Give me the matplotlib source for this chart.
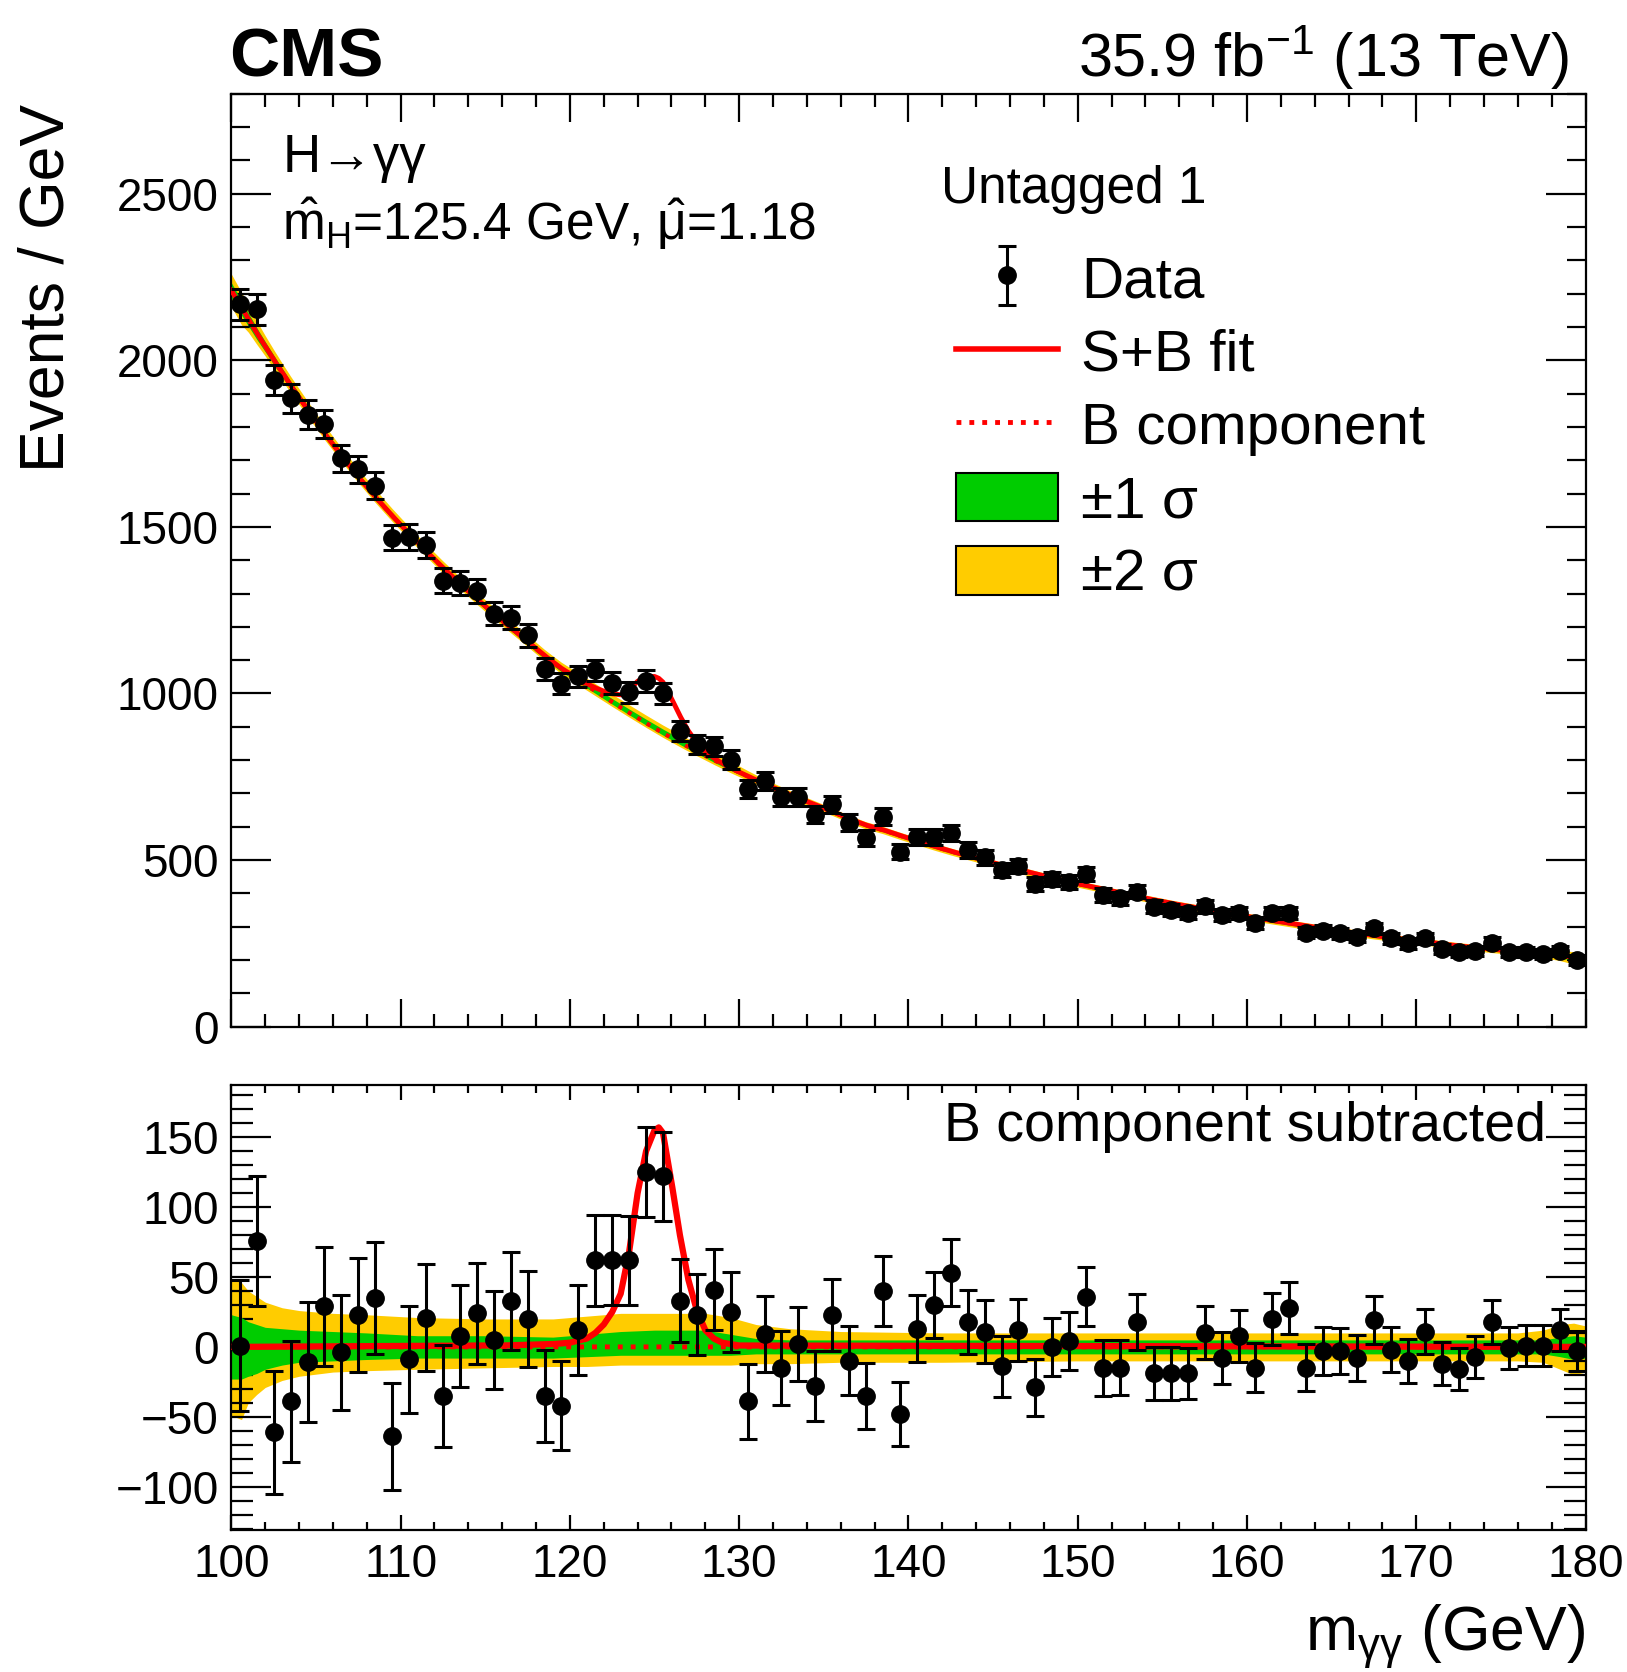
import numpy as np
import matplotlib
matplotlib.use("Agg")
import matplotlib.pyplot as plt
from matplotlib.lines import Line2D
from matplotlib.patches import Patch
from matplotlib.ticker import MultipleLocator

plt.rcParams["font.family"] = ["Liberation Sans", "DejaVu Sans"]
plt.rcParams["mathtext.fontset"] = "custom"
plt.rcParams["mathtext.rm"] = "Liberation Sans"
plt.rcParams["mathtext.it"] = "Liberation Sans:italic"
plt.rcParams["mathtext.bf"] = "Liberation Sans:bold"

# bin centres, 1 GeV bins from 100 to 180
mass = np.arange(100.5, 180.0, 1.0)

# events / GeV
data = [2168, 2153, 1941, 1886, 1837, 1809, 1706, 1673, 1624, 1468,
        1470, 1446, 1339, 1332, 1307, 1240, 1228, 1175, 1074, 1029,
        1051, 1069, 1031, 1004, 1037, 1001, 887, 847, 841, 801,
        714, 737, 689, 689, 636, 667, 612, 567, 630, 525,
        570, 570, 580, 530, 508, 470, 482, 428, 442, 435,
        458, 395, 385, 405, 360, 350, 342, 361, 335, 342,
        310, 340, 340, 282, 288, 280, 270, 295, 265, 250,
        265, 232, 225, 228, 252, 225, 225, 218, 228, 200]

# background-subtracted values
resid = [1, 76, -61, -39, -11, 29, -4, 23, 35, -64,
         -9, 21, -35, 8, 24, 5, 33, 20, -35, -42,
         12, 62, 62, 62, 125, 122, 33, 23, 41, 25,
         -39, 9, -15, 2, -28, 23, -10, -35, 40, -48,
         13, 30, 53, 18, 11, -14, 12, -29, 0, 4,
         36, -15, -15, 18, -19, -19, -19, 10, -8, 8,
         -15, 20, 28, -15, -3, -3, -8, 19, -2, -10,
         11, -12, -16, -7, 18, -1, 1, 1, 12, -3]

# B component of the fit at the edges and bin centres
bkg_x = [100.0] + list(mass) + [180.0]
bkg_y = [2210,
         2167, 2082, 2002, 1925, 1852, 1781, 1714, 1650, 1590, 1533,
         1479, 1427, 1377, 1329, 1283, 1239, 1197, 1155, 1112, 1073,
         1040, 1007, 974, 942, 911, 881, 853, 826, 800, 775,
         751, 728, 706, 685, 665, 645, 623, 604, 590, 573,
         557, 541, 526, 512, 498, 484, 471, 458, 446, 434,
         423, 412, 401, 390, 380, 370, 361, 352, 343, 335,
         326, 318, 310, 302, 294, 287, 280, 273, 267, 261,
         255, 248, 242, 237, 232, 227, 222, 218, 214, 206,
         203]

# signal part of the S+B fit (lower panel red curve)
sig_x = [100, 116, 119, 120, 121, 121.5, 122, 122.5, 123, 123.5, 124, 124.5,
         125, 125.25, 125.5, 126, 126.5, 127, 127.5, 128, 128.5, 129, 130, 180]
sig_y = [0, 1, 2, 3, 6, 10, 16, 25, 38, 68, 110, 140,
         155, 157, 153, 118, 80, 48, 26, 12, 6, 3, 1, 0]

# uncertainty bands on the background (events / GeV)
band_x = [100, 100.6, 101, 101.5, 102, 103, 104, 106, 108, 111, 115, 119, 121, 123,
          125, 128, 129.5, 131, 133, 136, 142, 150, 160, 170, 176, 177.5, 178.5,
          179.3, 180]
band2_up = [49, 46, 40, 36, 32, 28, 26, 24, 23, 21, 20, 20, 22, 24,
            24, 24, 21, 16, 13, 11, 10, 10, 10, 10, 10, 12, 16, 17, 15]
band2_lo = [-49, -52, -40, -34, -29, -24, -21, -18, -17, -16, -15, -14, -14, -13,
            -13, -13, -13, -12, -12, -11, -11, -10, -10, -10, -10, -11, -16, -20, -18]
band1_up = [23, 21, 18, 16, 14, 13, 12, 11, 10, 8, 8, 7, 9, 11,
            12, 12, 9, 6, 5, 5, 5, 5, 5, 5, 5, 5, 7, 8, 7]
band1_lo = [-23, -23, -21, -19, -16, -13, -11, -10, -9, -8, -8, -8, -7, -6,
            -6, -6, -6, -5, -5, -5, -5, -5, -5, -5, -5, -5, -7, -9, -8]

GREEN = "#00cc00"
YELLOW = "#ffcc00"

data = np.array(data, dtype=float)
resid = np.array(resid, dtype=float)
err = np.sqrt(data)

xf = np.linspace(100, 180, 1601)
bf = np.interp(xf, bkg_x, bkg_y)
sf = np.interp(xf, sig_x, sig_y)
b2u = np.interp(xf, band_x, band2_up)
b2l = np.interp(xf, band_x, band2_lo)
b1u = np.interp(xf, band_x, band1_up)
b1l = np.interp(xf, band_x, band1_lo)

fig = plt.figure(figsize=(16.27, 16.72), dpi=100)
ax1 = fig.add_axes([0.1422, 0.3860, 0.8323, 0.5579])
ax2 = fig.add_axes([0.1422, 0.0849, 0.8323, 0.2659])

eb_style = dict(fmt="o", color="black", ms=12.5, elinewidth=2.2, capsize=6.5,
                capthick=2.2, zorder=5)

# upper panel
ax1.fill_between(xf, bf + b2l, bf + b2u, color=YELLOW, lw=0, zorder=1)
ax1.fill_between(xf, bf + b1l, bf + b1u, color=GREEN, lw=0, zorder=2)
ax1.plot(xf, bf + sf, color="red", lw=3.5, zorder=3)
ax1.plot(xf, bf, color="red", lw=3, ls=":", zorder=4)
eb = ax1.errorbar(mass, data, yerr=err, **eb_style)

ax1.set_xlim(100, 180)
ax1.set_ylim(0, 2800)

# lower panel
ax2.fill_between(xf, b2l, b2u, color=YELLOW, lw=0, zorder=1)
ax2.fill_between(xf, b1l, b1u, color=GREEN, lw=0, zorder=2)
ax2.plot(xf, np.zeros_like(xf), color="red", lw=3.5, ls=":", zorder=3)
ax2.plot(xf, sf, color="red", lw=4.5, zorder=4)
ax2.errorbar(mass, resid, yerr=err, **eb_style)

ax2.set_xlim(100, 180)
ax2.set_ylim(-131, 187)

for ax in (ax1, ax2):
    for sp in ax.spines.values():
        sp.set_linewidth(1.6)
    ax.xaxis.set_major_locator(MultipleLocator(10))
    ax.xaxis.set_minor_locator(MultipleLocator(2))

ax1.yaxis.set_major_locator(MultipleLocator(500))
ax1.yaxis.set_minor_locator(MultipleLocator(100))
ax2.yaxis.set_major_locator(MultipleLocator(50))
ax2.yaxis.set_minor_locator(MultipleLocator(10))

ax1.tick_params(axis="x", which="major", direction="in", length=20, width=1.6,
                top=True, labelbottom=False)
ax1.tick_params(axis="x", which="minor", direction="in", length=9.5, width=1.6, top=True)
ax1.tick_params(axis="y", which="major", direction="in", length=29, width=1.6,
                right=True, labelsize=33, pad=9)
ax1.tick_params(axis="y", which="minor", direction="in", length=14, width=1.6, right=True)

ax2.tick_params(axis="x", which="major", direction="in", length=11, width=1.6,
                top=True, labelsize=33, pad=9)
ax2.tick_params(axis="x", which="minor", direction="in", length=6, width=1.6, top=True)
ax2.tick_params(axis="y", which="major", direction="in", length=29, width=1.6,
                right=True, labelsize=33, pad=9)
ax2.tick_params(axis="y", which="minor", direction="in", length=16, width=1.6, right=True)

# texts
fig.text(0.141, 0.954, "CMS", fontsize=50, fontweight="bold", ha="left", va="baseline")
fig.text(0.9645, 0.954, r"35.9 fb$^{-1}$ (13 TeV)", fontsize=44, ha="right", va="baseline")
fig.text(0.029, 0.828, "Events / GeV", fontsize=45, rotation=90, ha="center", va="center")
fig.text(0.9745, 0.013, r"$\mathrm{m}_{\mathrm{γγ}}$ (GeV)", fontsize=45,
         ha="right", va="baseline")

ax1.text(0.0377, 0.958, "H→γγ", transform=ax1.transAxes, fontsize=38, va="top")
ax1.text(0.0377, 0.843, r"$\hat{\mathrm{m}}_{\mathrm{H}}$=125.4 GeV, $\hat{\mathrm{μ}}$=1.18",
         transform=ax1.transAxes, fontsize=37, va="baseline")
ax1.text(0.524, 0.924, "Untagged 1", transform=ax1.transAxes, fontsize=37, va="top")
ax2.text(0.971, 0.875, "B component subtracted", transform=ax2.transAxes, fontsize=40,
         ha="right", va="baseline")

handles = [eb,
           Line2D([], [], color="red", lw=4),
           Line2D([], [], color="red", lw=3.5, ls=":"),
           Patch(facecolor=GREEN, edgecolor="black", lw=1.5),
           Patch(facecolor=YELLOW, edgecolor="black", lw=1.5)]
labels = ["Data", "S+B fit", "B component", "±1 σ", "±2 σ"]
ax1.legend(handles, labels, loc="upper left", bbox_to_anchor=(0.535, 0.829),
           frameon=False, fontsize=42, handlelength=1.75, handleheight=0.9,
           labelspacing=0.29, handletextpad=0.4, borderpad=0, borderaxespad=0)

fig.savefig("out.png", dpi=100)
